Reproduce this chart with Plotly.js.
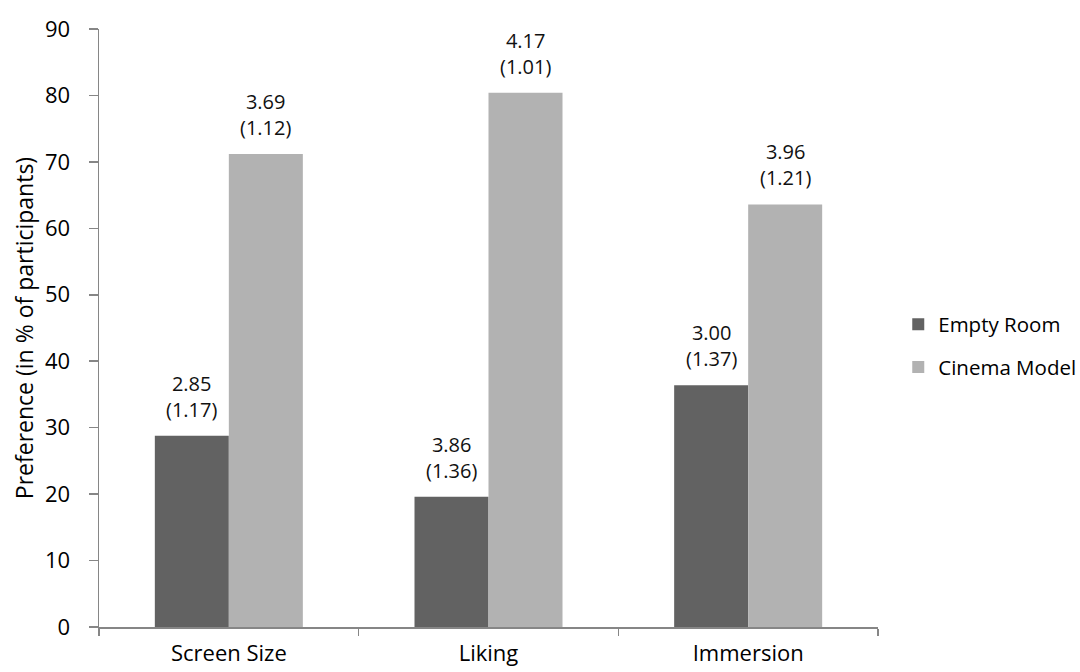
<!DOCTYPE html>
<html>
<head>
<meta charset="utf-8">
<script src="https://cdn.plot.ly/plotly-3.0.1.min.js"></script>
<style>
  html, body { margin: 0; padding: 0; background: #fff; }
  #chart { width: 1080px; height: 672px; }
</style>
</head>
<body>
<div id="chart"></div>
<script>
// Preference shares per measure, with mean (SD) ratings shown above each bar
const categories = ['Screen Size', 'Liking', 'Immersion'];
const emptyRoom = [28.8, 19.6, 36.4];
const cinemaModel = [71.2, 80.4, 63.6];
const emptyMeans = ['2.85', '3.86', '3.00'];
const emptySDs = ['1.17', '1.36', '1.37'];
const cinemaMeans = ['3.69', '4.17', '3.96'];
const cinemaSDs = ['1.12', '1.01', '1.21'];
const yTicks = [0, 10, 20, 30, 40, 50, 60, 70, 80, 90];

const fontFamily = 'Open Sans, Lato, sans-serif';
const axisGrey = '#868686';
const bargap = 0.43;
const margin = { l: 99, r: 202, t: 29, b: 45, autoexpand: false };

function labels(means, sds) {
  return means.map((m, i) => m + '<br>(' + sds[i] + ')');
}

function barTrace(name, values, color, group) {
  return {
    type: 'bar',
    name: name,
    legendgroup: group,
    x: categories,
    y: values,
    marker: { color: color },
    hoverinfo: 'skip'
  };
}

const traces = [
  barTrace('Empty Room', emptyRoom, '#626262', 'empty'),
  barTrace('Cinema Model', cinemaModel, '#b2b2b2', 'cinema')
];

// Mean (SD) labels sit above the middle of each bar in the group
const plotWidth = 1080 - margin.l - margin.r;
const barWidthPx = (plotWidth / categories.length) * (1 - bargap) / 2;
const annotations = [];
[[emptyRoom, labels(emptyMeans, emptySDs), -1], [cinemaModel, labels(cinemaMeans, cinemaSDs), 1]]
  .forEach(([values, texts, side]) => {
    categories.forEach((cat, i) => {
      annotations.push({
        x: cat,
        y: values[i],
        xref: 'x',
        yref: 'y',
        text: texts[i],
        showarrow: false,
        xanchor: 'center',
        yanchor: 'bottom',
        xshift: side * barWidthPx / 2,
        yshift: 11,
        font: { family: fontFamily, size: 20, color: '#111' }
      });
    });
  });

const layout = {
  width: 1080,
  height: 672,
  margin: margin,
  paper_bgcolor: '#fff',
  plot_bgcolor: '#fff',
  font: { family: fontFamily, color: '#000' },
  barmode: 'group',
  bargap: bargap,
  bargroupgap: 0,
  showlegend: true,
  annotations: annotations,
  legend: {
    x: 1.026, y: 0.47, xanchor: 'left', yanchor: 'middle',
    font: { family: fontFamily, size: 20.5, color: '#000' },
    itemwidth: 30,
    traceorder: 'grouped',
    tracegroupgap: 13
  },
  xaxis: {
    type: 'category',
    showline: true,
    linecolor: axisGrey,
    linewidth: 1.5,
    ticks: 'outside',
    tickson: 'boundaries',
    ticklen: 7,
    tickwidth: 1.5,
    tickcolor: axisGrey,
    ticklabelstandoff: 6,
    showgrid: false,
    tickfont: { family: fontFamily, size: 22, color: '#000' },
    fixedrange: true
  },
  yaxis: {
    range: [0, 90],
    tickvals: yTicks,
    ticktext: yTicks.map(String),
    showline: true,
    linecolor: axisGrey,
    linewidth: 1.5,
    ticks: 'outside',
    ticklen: 9,
    tickwidth: 1.5,
    tickcolor: axisGrey,
    ticklabelstandoff: 14,
    showgrid: false,
    zeroline: false,
    tickfont: { family: fontFamily, size: 22, color: '#000' },
    title: { text: 'Preference (in % of participants)', font: { family: fontFamily, size: 23, color: '#000' }, standoff: 5 },
    fixedrange: true
  }
};

Plotly.newPlot('chart', traces, layout, { displayModeBar: false, staticPlot: true });
</script>
</body>
</html>
